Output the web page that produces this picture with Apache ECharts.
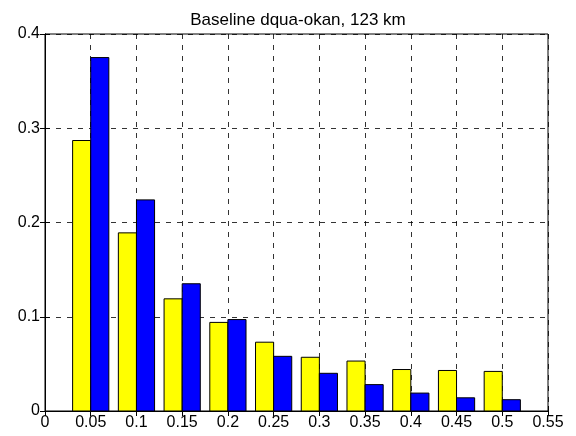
<!DOCTYPE html>
<html>
<head>
<meta charset="utf-8">
<script src="https://cdn.jsdelivr.net/npm/echarts@6/dist/echarts.min.js"></script>
<style>
  html, body { margin: 0; padding: 0; background: #fff; }
  #chart { width: 576px; height: 436px; }
</style>
</head>
<body>
<div id="chart"></div>
<script>
  // bin centres and the two histograms
  const bins = [0.05, 0.1, 0.15, 0.2, 0.25, 0.3, 0.35, 0.4, 0.45, 0.5]
  const yellowVals = [0.287, 0.189, 0.119, 0.094, 0.073, 0.057, 0.053, 0.044, 0.043, 0.042]
  const blueVals = [0.375, 0.224, 0.135, 0.097, 0.058, 0.040, 0.028, 0.019, 0.014, 0.012]
  const xTicks = [0, 0.05, 0.1, 0.15, 0.2, 0.25, 0.3, 0.35, 0.4, 0.45, 0.5, 0.55]
  const yTicks = [0, 0.1, 0.2, 0.3, 0.4]

  const barW = 0.0198
  const font = 'Liberation Sans, Arial, sans-serif'

  function barRenderer (color, side) {
    return function (params, api) {
      const x = api.value(0)
      const v = api.value(1)
      const x0 = side < 0 ? x - barW : x
      const p1 = api.coord([x0, v])
      const p2 = api.coord([x0 + barW, 0])
      return {
        type: 'rect',
        shape: { x: p1[0], y: p1[1], width: p2[0] - p1[0], height: p2[1] - p1[1] },
        style: { fill: color, stroke: '#000', lineWidth: 1 }
      }
    }
  }

  const dashed = { show: true, lineStyle: { color: '#000', type: [5, 6], width: 1, opacity: 0.8 } }

  const chart = echarts.init(document.getElementById('chart'), null, { renderer: 'canvas' })
  chart.setOption({
    animation: false,
    backgroundColor: '#fff',
    title: {
      text: 'Baseline dqua-okan, 123 km',
      left: 293,
      textAlign: 'center',
      top: 7,
      textStyle: { fontFamily: font, fontSize: 17, fontWeight: 'normal', color: '#000' }
    },
    grid: { left: 45, right: 28, top: 34, bottom: 25, show: true, borderColor: '#000', borderWidth: 1 },
    xAxis: [{
      type: 'value',
      min: 0,
      max: 0.55,
      interval: 0.05,
      axisLine: { show: true, lineStyle: { color: '#000' } },
      axisTick: { show: true, inside: true, length: 5, lineStyle: { color: '#000' } },
      axisLabel: {
        fontFamily: font, fontSize: 16, color: '#000', margin: 4,
        formatter: v => xTicks.find(t => Math.abs(t - v) < 1e-9) !== undefined ? String(+v.toFixed(2)) : ''
      },
      splitLine: dashed
    }, {
      type: 'value',
      position: 'top',
      min: 0,
      max: 0.55,
      interval: 0.05,
      axisLine: { show: true, lineStyle: { color: '#000' } },
      axisTick: { show: true, inside: true, length: 5, lineStyle: { color: '#000' } },
      axisLabel: { show: false },
      splitLine: { show: false }
    }],
    yAxis: [{
      type: 'value',
      min: 0,
      max: 0.4,
      interval: 0.1,
      axisLine: { show: true, lineStyle: { color: '#000' } },
      axisTick: { show: true, inside: true, length: 5, lineStyle: { color: '#000' } },
      axisLabel: {
        fontFamily: font, fontSize: 16, color: '#000', margin: 5,
        formatter: v => yTicks.find(t => Math.abs(t - v) < 1e-9) !== undefined ? String(+v.toFixed(1)) : ''
      },
      splitLine: dashed
    }, {
      type: 'value',
      position: 'right',
      min: 0,
      max: 0.4,
      interval: 0.1,
      axisLine: { show: true, lineStyle: { color: '#000' } },
      axisTick: { show: true, inside: true, length: 5, lineStyle: { color: '#000' } },
      axisLabel: { show: false },
      splitLine: { show: false }
    }],
    series: [
      {
        name: 'yellow',
        type: 'custom',
        renderItem: barRenderer('#ffff00', -1),
        data: bins.map((b, i) => [b, yellowVals[i]]),
        z: 3
      },
      {
        name: 'blue',
        type: 'custom',
        renderItem: barRenderer('#0000ff', 1),
        data: bins.map((b, i) => [b, blueVals[i]]),
        z: 3
      }
    ]
  })
</script>
</body>
</html>
